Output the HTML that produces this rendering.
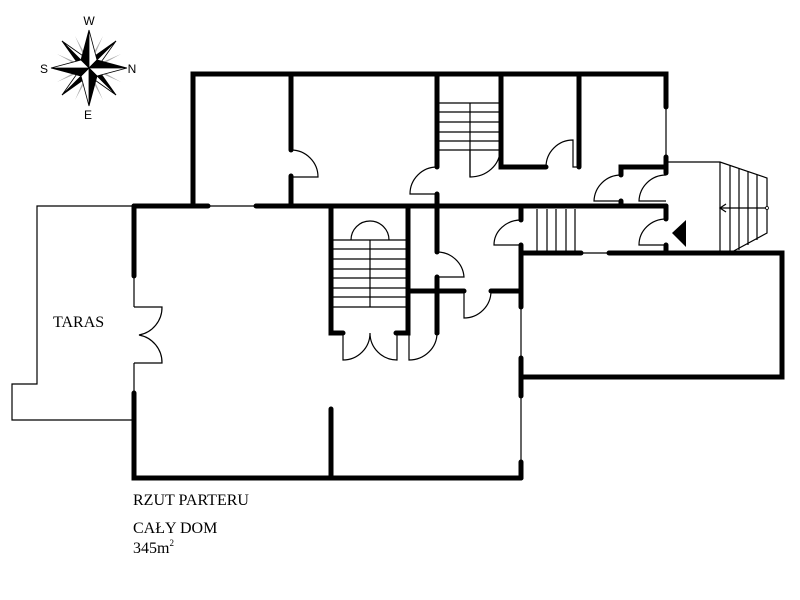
<!DOCTYPE html>
<html><head><meta charset="utf-8"><style>
html,body{margin:0;padding:0;background:#fff;width:800px;height:600px;overflow:hidden}
svg{display:block}
.t{stroke:#000;stroke-width:5;stroke-linecap:round;fill:none}
.n{stroke:#000;stroke-width:1.2;fill:none}
text{font-family:"Liberation Serif",serif;fill:#000}
</style></head><body>
<svg width="800" height="600" viewBox="0 0 800 600" xmlns="http://www.w3.org/2000/svg">
<!-- compass -->
<g transform="translate(89,68)">
 <g fill="#aaa">
  <polygon points="0,0 32,-14 12,-3"/><polygon points="0,0 -32,14 -12,3"/>
  <polygon points="0,0 14,32 3,12"/><polygon points="0,0 -14,-32 -3,-12"/>
  <polygon points="0,0 32,14 12,3"/><polygon points="0,0 -32,-14 -12,-3"/>
  <polygon points="0,0 14,-32 3,-12"/><polygon points="0,0 -14,32 -3,12"/>
 </g>
 <g stroke="#000" stroke-width="0.8">
  <polygon points="0,0 27,-27 3,-10" fill="#000"/><polygon points="0,0 27,-27 10,-3" fill="#fff"/>
  <polygon points="0,0 27,27 10,3" fill="#000"/><polygon points="0,0 27,27 3,10" fill="#fff"/>
  <polygon points="0,0 -27,27 -3,10" fill="#000"/><polygon points="0,0 -27,27 -10,3" fill="#fff"/>
  <polygon points="0,0 -27,-27 -10,-3" fill="#000"/><polygon points="0,0 -27,-27 -3,-10" fill="#fff"/>
  <polygon points="0,0 0,-38 -8,-8" fill="#000"/><polygon points="0,0 0,-38 8,-8" fill="#fff"/>
  <polygon points="0,0 38,0 8,-8" fill="#000"/><polygon points="0,0 38,0 8,8" fill="#fff"/>
  <polygon points="0,0 0,38 8,8" fill="#000"/><polygon points="0,0 0,38 -8,8" fill="#fff"/>
  <polygon points="0,0 -38,0 -8,8" fill="#000"/><polygon points="0,0 -38,0 -8,-8" fill="#fff"/>
 </g>
</g>
<g text-anchor="middle">
 <text x="89" y="25" style="font-family:'Liberation Sans',sans-serif;font-size:12px">W</text>
 <text x="44" y="73" style="font-family:'Liberation Sans',sans-serif;font-size:12px">S</text>
 <text x="132" y="73" style="font-family:'Liberation Sans',sans-serif;font-size:12px">N</text>
 <text x="88" y="119" style="font-family:'Liberation Sans',sans-serif;font-size:12px">E</text>
</g>

<!-- terrace -->
<polyline class="n" points="134,206 37,206 37,384 12,384 12,420 134,420"/>
<text x="53" y="327" font-size="16">TARAS</text>

<!-- thick walls -->
<g class="t">
 <polyline points="193,206 193,74 666,74 666,107"/>
 <line x1="134" y1="206" x2="208" y2="206"/>
 <line x1="256" y1="206" x2="666" y2="206"/>
 <line x1="291" y1="74" x2="291" y2="150"/><line x1="291" y1="176" x2="291" y2="206"/>
 <line x1="437" y1="74" x2="437" y2="167"/><line x1="437" y1="194" x2="437" y2="252"/>
 <line x1="437" y1="277" x2="437" y2="333"/>
 <polyline points="501,74 501,167 546,167"/>
 <line x1="579" y1="74" x2="579" y2="167"/>
 <line x1="666" y1="157" x2="666" y2="173"/>
 <polyline points="666,167 621,167 621,175"/>
 <line x1="621" y1="201" x2="621" y2="206"/>
 <line x1="666" y1="206" x2="666" y2="219"/><line x1="666" y1="245" x2="666" y2="253"/>
 <line x1="521" y1="209" x2="521" y2="220"/><line x1="521" y1="245" x2="521" y2="307"/>
 <line x1="521" y1="253" x2="581" y2="253"/>
 <polyline points="609,253 782,253 782,377 521,377"/>
 <line x1="521" y1="358" x2="521" y2="396"/>
 <line x1="521" y1="462" x2="521" y2="478"/>
 <polyline points="134,206 134,276"/>
 <polyline points="134,393 134,478 521,478"/>
 <line x1="331" y1="409" x2="331" y2="478"/>
 <polyline points="343,333 331,333 331,206"/>
 <polyline points="396,333 408,333 408,206"/>
 <line x1="408" y1="291" x2="464" y2="291"/>
 <line x1="491" y1="291" x2="521" y2="291"/>
</g>

<!-- thin lines -->
<g class="n">
 <line x1="208" y1="206" x2="256" y2="206"/>
 <line x1="666" y1="107" x2="666" y2="157"/>
 <line x1="581" y1="253" x2="609" y2="253"/>
 <line x1="521" y1="307" x2="521" y2="358"/>
 <line x1="521" y1="396" x2="521" y2="462"/>
 <line x1="134" y1="276" x2="134" y2="307"/>
 <line x1="134" y1="363" x2="134" y2="393"/>
 <!-- doors -->
 <path d="M291,150 A27,27 0 0 1 318,177 L291,177"/>
 <path d="M437,167 A27,27 0 0 0 410,194 L437,194"/>
 <path d="M437,252 A27,27 0 0 1 464,277 L437,277"/>
 <path d="M546,167 A27,27 0 0 1 573,140 L573,167 L579,167"/>
 <path d="M500,150 A30,27 0 0 1 470,177 L470,150"/>
 <path d="M621,175 A27,27 0 0 0 594,201 L621,201"/>
 <path d="M666,175 A27,27 0 0 0 639,201 L666,201"/>
 <path d="M666,219 A27,26 0 0 0 639,245 L666,245"/>
 <path d="M521,220 A27,25 0 0 0 494,245 L521,245"/>
 <path d="M464,291 L464,318 A27,27 0 0 0 491,291"/>
 <path d="M134,307 L162,307 A28,28 0 0 1 139,335 A28,28 0 0 1 162,363 L134,363"/>
 <path d="M343,333 L343,360 A27,27 0 0 0 370,333 A27,27 0 0 0 397,360 L397,333"/>
 <path d="M409,333 L409,360 A28,27 0 0 0 437,333"/>
 <!-- stairs upper -->
 <path d="M437,103H501M437,112H501M437,122H501M437,132H501M437,141H501M437,150H501M470,103V177"/>
 <!-- stairs middle -->
 <path d="M331,240H408M331,249H408M331,259H408M331,269H408M331,278H408M331,288H408M331,297H408M331,307H408M370,240V307"/>
 <path d="M351,240 A19,19 0 0 1 389,240"/>
 <!-- small stairs -->
 <path d="M537,209V253M547,209V253M556,209V253M566,209V253M575,209V253"/>
 <!-- exterior stairs -->
 <polyline points="666,162 720,162 767,178 767,233 730,253"/>
 <path d="M720,162V253M730,165V253M739,168V250M748,172V245M757,175V240"/>
 <line x1="720" y1="208" x2="767" y2="208"/>
 <path d="M726,204 L720,208 L726,212"/>
</g>
<circle cx="767" cy="208" r="1.5" fill="#fff" stroke="#000" stroke-width="0.8"/>
<circle cx="437" cy="333" r="2.5" fill="#000"/>
<polygon points="672,233 686,220 686,247" fill="#000"/>

<text x="133" y="505" font-size="16">RZUT PARTERU</text>
<text x="133" y="533" font-size="16">CAŁY DOM</text>
<text x="133" y="553" font-size="16">345m<tspan font-size="9" dy="-7">2</tspan></text>
</svg>
</body></html>
